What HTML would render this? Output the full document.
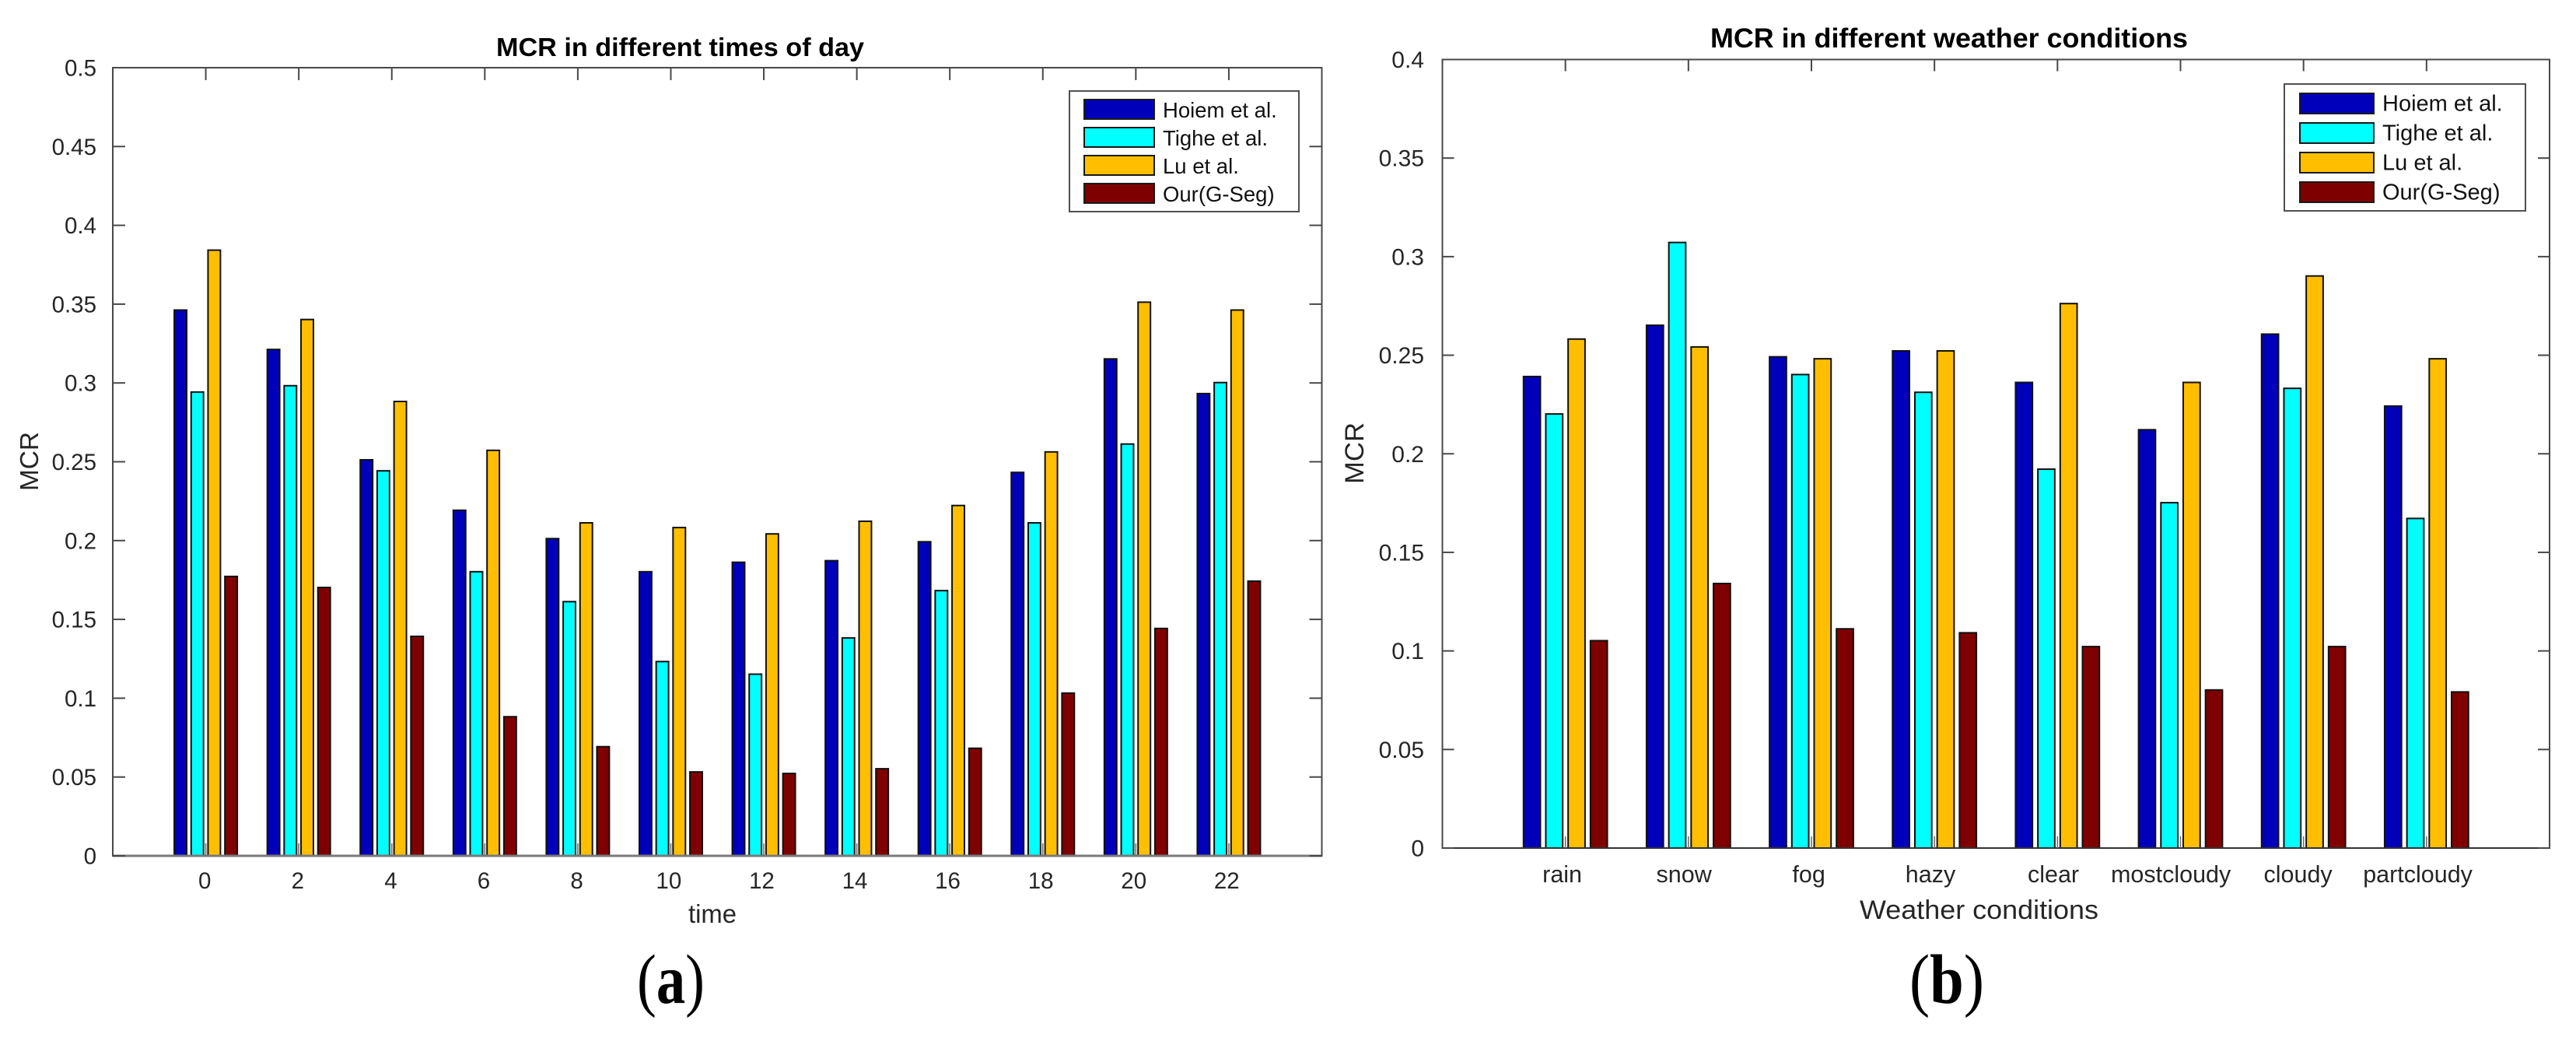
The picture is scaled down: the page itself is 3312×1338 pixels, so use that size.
<!DOCTYPE html>
<html lang="en">
<head>
<meta charset="utf-8">
<title>MCR bar charts</title>
<style>
html,body{margin:0;padding:0;background:#fff;width:3312px;height:1338px;overflow:hidden}
svg{display:block}
text{font-family:"Liberation Sans",Arial,sans-serif;fill:#262626}
</style>
</head>
<body>
<svg id="figure" xmlns="http://www.w3.org/2000/svg" width="3312" height="1338" viewBox="0 0 3312 1338">
  <rect x="0" y="0" width="3312" height="1338" fill="#fff"/>
  <g id="chart-a"></g>
  <g id="chart-b"></g>
  <text x="819" y="1289" font-size="90" textLength="87" lengthAdjust="spacingAndGlyphs" style="font-family:'Liberation Serif',serif;fill:#000">(<tspan font-weight="bold">a</tspan>)</text>
  <text x="2455" y="1289" font-size="90" textLength="96" lengthAdjust="spacingAndGlyphs" style="font-family:'Liberation Serif',serif;fill:#000">(<tspan font-weight="bold">b</tspan>)</text>
</svg>
<script>
// ---- Data ----
const seriesNames = ["Hoiem et al.", "Tighe et al.", "Lu et al.", "Our(G-Seg)"];
const seriesColors = ["#0000bb", "#00ffff", "#ffbf00", "#7f0000"];

const timeLabels = ["0","2","4","6","8","10","12","14","16","18","20","22"];
const hoiemTime = [0.346,0.321,0.251,0.219,0.201,0.180,0.186,0.187,0.199,0.243,0.315,0.293];
const tigheTime = [0.294,0.298,0.244,0.180,0.161,0.123,0.115,0.138,0.168,0.211,0.261,0.300];
const luTime    = [0.384,0.340,0.288,0.257,0.211,0.208,0.204,0.212,0.222,0.256,0.351,0.346];
const ourTime   = [0.177,0.170,0.139,0.088,0.069,0.053,0.052,0.055,0.068,0.103,0.144,0.174];
const timeTicks = [0,0.05,0.1,0.15,0.2,0.25,0.3,0.35,0.4,0.45,0.5];

const weatherLabels = ["rain","snow","fog","hazy","clear","mostcloudy","cloudy","partcloudy"];
const hoiemWeather = [0.239,0.265,0.249,0.252,0.236,0.212,0.2605,0.224];
const tigheWeather = [0.220,0.307,0.240,0.231,0.192,0.175,0.233,0.167];
const luWeather    = [0.258,0.254,0.248,0.252,0.276,0.236,0.290,0.248];
const ourWeather   = [0.105,0.134,0.111,0.109,0.102,0.080,0.102,0.079];
const weatherTicks = [0,0.05,0.1,0.15,0.2,0.25,0.3,0.35,0.4];

// ---- Drawing ----
const NS = "http://www.w3.org/2000/svg";
function make(parent, tag, props, content) {
  const el = document.createElementNS(NS, tag);
  for (const k in props) el.setAttribute(k, props[k]);
  if (content !== undefined) el.textContent = content;
  parent.appendChild(el);
  return el;
}

function drawChart(root, cfg, categories, series, ticks) {
  const xScale = i => cfg.left + (i + 1) * (cfg.right - cfg.left) / (categories.length + 1);
  const yScale = v => cfg.bottom - (v / ticks[ticks.length - 1]) * (cfg.bottom - cfg.top);
  const unit = (cfg.right - cfg.left) / (categories.length + 1);
  const barStep = unit * 0.1814;
  const barWidth = unit * 0.15;

  // bars
  series.forEach((values, s) => {
    values.forEach((v, i) => {
      const cx = xScale(i) + (s - 1.5) * barStep;
      const bar = make(root, "rect", {
        x: cx - barWidth / 2 + 1, y: yScale(v) - 0.5,
        width: barWidth - 2, height: Math.max(0, cfg.bottom - yScale(v) + 0.5),
        fill: seriesColors[s], stroke: "#111", "stroke-width": 2
      });
      
      
    });
  });

  // axis box
  const box = make(root, "rect", {
    x: cfg.left, y: cfg.top, width: cfg.right - cfg.left, height: cfg.bottom - cfg.top,
    fill: "none", stroke: "#484848", "stroke-width": 2
  });
  
  
  const base = make(root, "line", {
    x1: cfg.left, x2: cfg.right, y1: cfg.bottom, y2: cfg.bottom,
    stroke: cfg.baseColor, "stroke-width": cfg.baseWidth
  });
  
  

  // y ticks
  ticks.forEach(t => {
    const y = yScale(t);
    [[cfg.left, cfg.left + cfg.tickLen], [cfg.right, cfg.right - cfg.tickLen]].forEach(p => {
      const tk = make(root, "line", { x1: p[0], x2: p[1], y1: y, y2: y, stroke: "#484848", "stroke-width": 2 });
      
      
    });
    const lab = make(root, "text", {
      x: cfg.yLabelX, y: y + 10.5, "text-anchor": "end", "font-size": cfg.tickFont
    }, String(t));
    
    
  });

  // x ticks
  categories.forEach((c, i) => {
    const x = xScale(i);
    [[cfg.bottom, cfg.bottom - cfg.tickLen, "#6a6a6a", 1.5], [cfg.top, cfg.top + cfg.tickLen, "#484848", 2]].forEach(p => {
      const tk = make(root, "line", { x1: x, x2: x, y1: p[0], y2: p[1], stroke: p[2], "stroke-width": p[3] });
      
      
    });
    const lab = make(root, "text", {
      x: x, y: cfg.xLabelY, "text-anchor": "middle", "font-size": cfg.xFont
    }, c);
    
    
    lab.setAttribute("x", x - 0.08 * lab.getComputedTextLength());
  });

  // titles
  const title = make(root, "text", {
    x: cfg.titleX, y: cfg.titleY, "font-size": cfg.titleFont, "font-weight": "bold",
    textLength: cfg.titleLen, lengthAdjust: "spacingAndGlyphs", style: "fill:#000"
  }, cfg.title);
  
  

  const xt = make(root, "text", {
    x: cfg.xTitleX, y: cfg.xTitleY, "font-size": cfg.xTitleFont,
    textLength: cfg.xTitleLen, lengthAdjust: "spacingAndGlyphs"
  }, cfg.xTitle);
  
  

  const yt = make(root, "text", {
    transform: "translate(" + cfg.yTitleX + "," + cfg.yTitleY + ") rotate(-90)",
    "font-size": cfg.yTitleFont, textLength: cfg.yTitleLen, lengthAdjust: "spacingAndGlyphs"
  }, "MCR");
  
  

  // legend
  const L = cfg.legend;
  const frame = make(root, "rect", {
    x: L.x, y: L.y, width: L.w, height: L.h, fill: "#fff", stroke: "#505050", "stroke-width": 2
  });
  
  
  seriesNames.forEach((name, s) => {
    const sw = make(root, "rect", {
      x: L.swX + 1, y: L.swY + s * L.rowH + 1, width: L.swW - 2, height: L.swH - 2,
      fill: seriesColors[s], stroke: "#1a1a1a", "stroke-width": 2
    });
    
    
    const tx = make(root, "text", {
      x: L.textX, y: L.textY + s * L.rowH, "font-size": L.font, style: "fill:#111"
    }, name);
    
    
  });
}

drawChart(document.getElementById("chart-a"), {
  left: 145, right: 1699.5, top: 87, bottom: 1100,
  tickLen: 16, tickFont: 29.5, xFont: 29.5, yLabelX: 124, xLabelY: 1142,
  baseColor: "#7a7a7a", baseWidth: 3,
  title: "MCR in different times of day", titleX: 638, titleY: 72, titleFont: 33, titleLen: 473,
  xTitle: "time", xTitleX: 885, xTitleY: 1186, xTitleFont: 33, xTitleLen: 62,
  yTitleX: 49, yTitleY: 631, yTitleFont: 33, yTitleLen: 76,
  legend: { x: 1375, y: 117, w: 295, h: 155, swX: 1393, swY: 127, swW: 92, swH: 27, rowH: 36, textX: 1495, textY: 151, font: 27.5 }
}, timeLabels, [hoiemTime, tigheTime, luTime, ourTime], timeTicks);

drawChart(document.getElementById("chart-b"), {
  left: 1854.5, right: 3278, top: 76.5, bottom: 1090,
  tickLen: 15, tickFont: 30, xFont: 30.5, yLabelX: 1831, xLabelY: 1134,
  baseColor: "#333", baseWidth: 2,
  title: "MCR in different weather conditions", titleX: 2199, titleY: 61, titleFont: 35, titleLen: 614,
  xTitle: "Weather conditions", xTitleX: 2391, xTitleY: 1181, xTitleFont: 34, xTitleLen: 307,
  yTitleX: 1753, yTitleY: 622, yTitleFont: 34.5, yTitleLen: 79,
  legend: { x: 2937, y: 108, w: 310, h: 163, swX: 2956, swY: 119, swW: 97, swH: 28, rowH: 38, textX: 3063, textY: 142.7, font: 29 }
}, weatherLabels, [hoiemWeather, tigheWeather, luWeather, ourWeather], weatherTicks);
</script>
</body>
</html>
